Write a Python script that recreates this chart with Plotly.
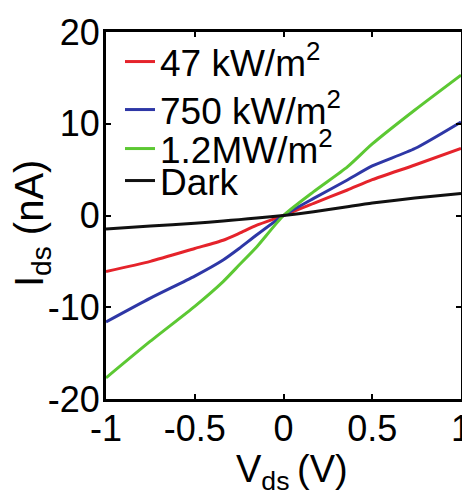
import plotly.graph_objects as go

# Drain-source voltage samples (V)
v_ds = [-1, -0.75, -0.5, -0.34, -0.25, -0.15, 0, 0.17, 0.36, 0.5, 0.74, 1]

# Drain-source current (nA) under each illumination condition
i_47kw = [-6.1, -5.0, -3.6, -2.7, -1.95, -1.05, 0, 1.33, 2.78, 3.9, 5.5, 7.3]
i_750kw = [-11.6, -9.0, -6.6, -4.85, -3.6, -2.1, 0, 1.87, 3.87, 5.4, 7.3, 10.2]
i_1p2mw = [-17.7, -13.7, -9.9, -7.2, -5.4, -3.4, 0, 2.6, 5.3, 7.8, 11.5, 15.3]
i_dark = [-1.47, -1.15, -0.85, -0.6, -0.45, -0.28, 0, 0.4, 0.95, 1.35, 1.9, 2.4]

series_names = ["47 kW/m<sup>2</sup>", "750 kW/m<sup>2</sup>", "1.2MW/m<sup>2</sup>", "Dark"]
series_values = [i_47kw, i_750kw, i_1p2mw, i_dark]
series_colors = ["#e5232b", "#2e37a6", "#5cc833", "#111111"]

x_ticks = [-1, -0.5, 0, 0.5, 1]
x_ticklabels = ["-1", "-0.5", "0", "0.5", "1"]
y_ticks = [-20, -10, 0, 10, 20]
y_ticklabels = ["-20", "-10", "0", "10", "20"]

FONT = "Liberation Sans, Arial, sans-serif"

# Plot-area geometry in pixels, used to place legend rows and titles
W, H = 462, 496
ML, MR, MT, MB = 106, 1, 32, 97
PW, PH = W - ML - MR, H - MT - MB


def px_x(x):
    return (x - ML) / PW


def px_y(y):
    return (H - MB - y) / PH


# One legend box per entry so the rows sit at a tight spacing
legend_ids = ["legend", "legend2", "legend3", "legend4"]
legend_rows_px = [62, 110, 149, 181]

fig = go.Figure()
for name, vals, color, lid in zip(series_names, series_values, series_colors, legend_ids):
    fig.add_trace(go.Scatter(
        x=v_ds, y=vals, mode="lines", name=name, legend=lid,
        line=dict(color=color, width=3, shape="spline", smoothing=0.6),
    ))

axis_common = dict(
    showgrid=False, zeroline=False, automargin=False,
    showline=True, linewidth=3, linecolor="black", mirror="ticks",
    ticks="inside", ticklen=5, tickwidth=2, tickcolor="black",
    tickfont=dict(family=FONT, size=36, color="black"),
    ticklabeloverflow="allow", ticklabelstandoff=-4,
)

legend_layout = {}
for lid, ypx in zip(legend_ids, legend_rows_px):
    legend_layout[lid] = dict(
        x=px_x(120), y=px_y(ypx), xanchor="left", yanchor="middle",
        bgcolor="rgba(0,0,0,0)", borderwidth=0,
        font=dict(family=FONT, size=37, color="black"),
    )

fig.update_layout(
    width=W, height=H,
    margin=dict(l=ML, r=MR, t=MT, b=MB, autoexpand=False),
    paper_bgcolor="white", plot_bgcolor="white",
    font=dict(family=FONT, color="black"),
    showlegend=True,
    xaxis=dict(range=[-1, 1], tickvals=x_ticks, ticktext=x_ticklabels, **axis_common),
    yaxis=dict(range=[-20, 20], tickvals=y_ticks, ticktext=y_ticklabels, **axis_common),
    annotations=[
        dict(text="V<sub>ds</sub>\u2009(V)", xref="paper", yref="paper",
             x=px_x(292), y=px_y(472), xanchor="center", yanchor="middle",
             showarrow=False, font=dict(family=FONT, size=38, color="black")),
        dict(text="I<sub>ds</sub> (nA)", xref="paper", yref="paper", textangle=-90,
             x=px_x(32), y=px_y(224), xanchor="center", yanchor="middle",
             showarrow=False, font=dict(family=FONT, size=40, color="black")),
    ],
    **legend_layout,
)

fig.write_html("out.html")
